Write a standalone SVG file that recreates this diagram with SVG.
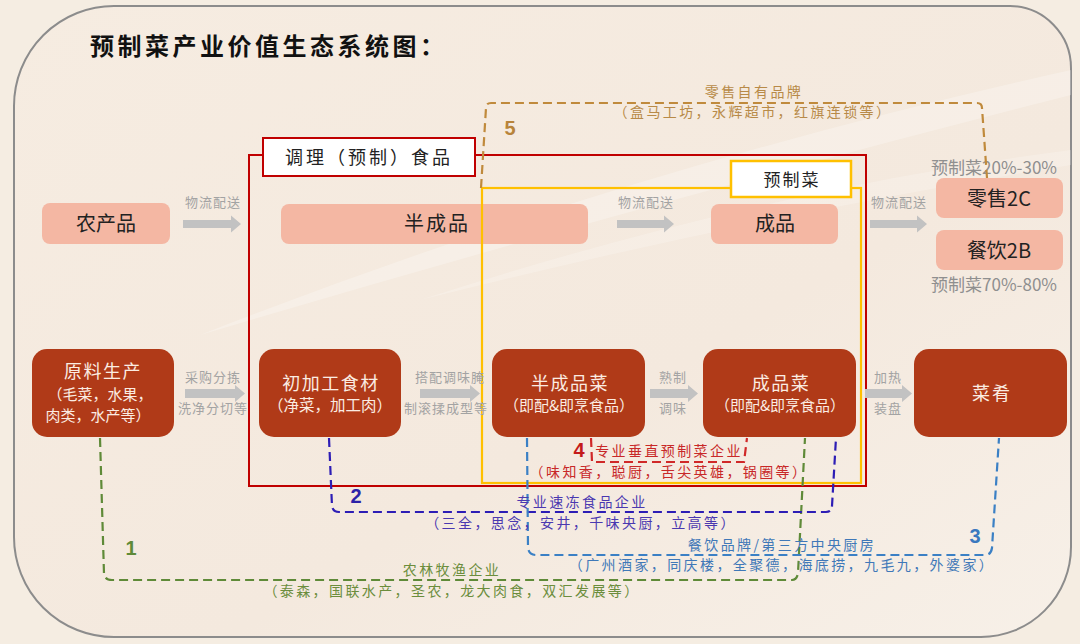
<svg xmlns="http://www.w3.org/2000/svg" width="1080" height="644" viewBox="0 0 1080 644">
<defs>
<style>
.t{font-family:"Noto Sans CJK SC","Noto Sans",sans-serif;}
.lb{fill:#f4b7a3;}
.db{fill:#b03a18;}
.lt{font-size:20px;fill:#222;text-anchor:middle;}
.dt{fill:#fbece2;text-anchor:middle;}
.ga{fill:#c2c2c2;}
.gl{font-size:13px;fill:#a3a3a3;text-anchor:middle;letter-spacing:1px;}
.pc{font-size:17px;fill:#8f8f8f;text-anchor:middle;}
.dash{fill:none;stroke-width:2.2;stroke-dasharray:9 5;}
.cap{font-size:14px;text-anchor:middle;letter-spacing:2.4px;}
.num{font-family:"Liberation Sans",Arial,sans-serif;font-size:20px;font-weight:bold;text-anchor:middle;}
</style>
<linearGradient id="bg" x1="0" y1="0" x2="1" y2="1">
<stop offset="0" stop-color="#f6ece1"/>
<stop offset="0.6" stop-color="#f4e9de"/>
<stop offset="1" stop-color="#f7f0e8"/>
</linearGradient>
</defs>
<rect width="1080" height="644" fill="#f5ede2"/>
<path d="M114,6 L1010,6 A62,62 0 0 1 1071,68 L1071,547 A90,90 0 0 1 981,637 L114,637 A100,100 0 0 1 14,537 L14,106 A100,100 0 0 1 114,6 Z" fill="url(#bg)" stroke="#8c8c8c" stroke-width="2"/>
<path d="M200,335 Q620,170 1071,70 L1071,95 Q620,210 200,335 Z" fill="#ffffff" opacity="0.25"/>
<path d="M420,300 Q760,190 1071,150 L1071,165 Q760,215 420,300 Z" fill="#ffffff" opacity="0.2"/>
<text class="t" x="90" y="55" font-size="24" font-weight="bold" fill="#111" letter-spacing="3.5">预制菜产业价值生态系统图：</text>

<g id="node-nongchanpin"><rect class="lb" x="42" y="203" width="128" height="41" rx="8"/><text class="t lt" x="106" y="231">农产品</text></g>
<g id="node-banchengpin"><rect class="lb" x="281" y="204" width="307" height="40" rx="8"/><text class="t lt" x="437" y="231" letter-spacing="2">半成品</text></g>
<g id="node-chengpin"><rect class="lb" x="711" y="204" width="127" height="40" rx="8"/><text class="t lt" x="775" y="231">成品</text></g>
<g id="node-lingshou"><rect class="lb" x="936" y="178" width="127" height="40" rx="8"/><text class="t lt" x="999" y="206" font-size="21">零售2C</text></g>
<g id="node-canyin"><rect class="lb" x="936" y="230" width="127" height="40" rx="8"/><text class="t lt" x="999" y="258" font-size="21">餐饮2B</text></g>
<text class="t pc" x="994" y="174">预制菜20%-30%</text>
<text class="t pc" x="994" y="291">预制菜70%-80%</text>

<g id="frame-tiaoli">
<rect x="249" y="155" width="617" height="331" fill="none" stroke="#c00000" stroke-width="2"/>
</g>
<g id="frame-yuzhicai">
<rect x="482" y="188" width="379" height="295" fill="none" stroke="#ffc000" stroke-width="2.2"/>
</g>
<g id="label-tiaoli"><rect x="263" y="138" width="212" height="38" fill="#fff" stroke="#c00000" stroke-width="2"/><text class="t" x="369" y="164" font-size="18" fill="#222" text-anchor="middle" letter-spacing="3">调理（预制）食品</text></g>
<g id="label-yuzhicai"><rect x="731" y="161" width="120" height="36" fill="#fff" stroke="#ffc000" stroke-width="2.5"/><text class="t" x="792" y="186" font-size="17" fill="#222" text-anchor="middle" letter-spacing="2">预制菜</text></g>

<g id="node-yuanliao"><rect class="db" x="32" y="349" width="142" height="88" rx="15"/>
<text class="t dt" x="103" y="378" font-size="18" letter-spacing="1.5">原料生产</text>
<text class="t dt" x="100" y="400" font-size="15">（毛菜，水果，</text>
<text class="t dt" x="98" y="421" font-size="15">肉类，水产等）</text></g>
<g id="node-chujiagong"><rect class="db" x="259" y="349" width="142" height="88" rx="15"/>
<text class="t dt" x="331" y="390" font-size="18" letter-spacing="1.5">初加工食材</text>
<text class="t dt" x="330" y="411" font-size="15.5">（净菜，加工肉）</text></g>
<g id="node-banchengpincai"><rect class="db" x="492" y="349" width="153" height="88" rx="15"/>
<text class="t dt" x="570" y="390" font-size="18" letter-spacing="1.5">半成品菜</text>
<text class="t dt" x="569" y="411" font-size="15">（即配&amp;即烹食品）</text></g>
<g id="node-chengpincai"><rect class="db" x="703" y="349" width="153" height="88" rx="15"/>
<text class="t dt" x="781" y="390" font-size="18" letter-spacing="1.5">成品菜</text>
<text class="t dt" x="780" y="411" font-size="15">（即配&amp;即烹食品）</text></g>
<g id="node-caiyao"><rect class="db" x="914" y="349" width="153" height="88" rx="15"/>
<text class="t dt" x="992" y="400" font-size="18" letter-spacing="2">菜肴</text></g>

<g id="connectors">
<polygon class="ga" points="183,220 231,220 231,215.5 241,224 231,232.5 231,228 183,228"/>
<polygon class="ga" points="617,220 664,220 664,215.5 674,224 664,232.5 664,228 617,228"/>
<polygon class="ga" points="870,220 917,220 917,215.5 927,224 917,232.5 917,228 870,228"/>
<polygon class="ga" points="185,389 235,389 235,385 245,393.5 235,402 235,398 185,398"/>
<polygon class="ga" points="420,389 470,389 470,385 480,393.5 470,402 470,398 420,398"/>
<polygon class="ga" points="650,389 688,389 688,385 698,393.5 688,402 688,398 650,398"/>
<polygon class="ga" points="865,389 902,389 902,385 912,393.5 902,402 902,398 865,398"/>

<path class="dash" stroke="#5f8a38" d="M100,438 L104,574 Q105,580 112,580 L792,580 Q797,580 798,573 L805,438"/>
<path class="dash" stroke="#2d1db5" d="M329,438 L332,506 Q333,512 339,512 L826,512 Q832,512 832,506 L836,438"/>
<path class="dash" stroke="#3b80c5" d="M527,438 L528,548 Q529,555 536,555 L985,555 Q991,555 992,548 L999,438"/>
<path class="dash" stroke="#d02828" d="M591,438 L592,462 L744,462 L747,438"/>
<path class="dash" stroke="#c08a3c" d="M481,188 L486,108 Q486,103 491,103 L977,103 Q982,103 982,108 L987,178"/>
</g>

<g id="labels">
<text class="t gl" x="213" y="207">物流配送</text>
<text class="t gl" x="646" y="207">物流配送</text>
<text class="t gl" x="899" y="207">物流配送</text>
<text class="t gl" x="213" y="382" font-size="14">采购分拣</text>
<text class="t gl" x="213" y="413" font-size="14">洗净分切等</text>
<text class="t gl" x="450" y="382" font-size="14">搭配调味腌</text>
<text class="t gl" x="446" y="413" font-size="14">制滚揉成型等</text>
<text class="t gl" x="673" y="382" font-size="14">熟制</text>
<text class="t gl" x="673" y="413" font-size="14">调味</text>
<text class="t gl" x="888" y="382" font-size="14">加热</text>
<text class="t gl" x="888" y="413" font-size="14">装盘</text>

<text class="num" x="131" y="555" fill="#5f8a38">1</text>
<text class="t cap" x="452" y="575" fill="#6b8d3c">农林牧渔企业</text>
<text class="t cap" x="452" y="596" fill="#6b8d3c">（泰森，国联水产，圣农，龙大肉食，双汇发展等）</text>

<text class="num" x="356" y="503" fill="#2d22a8">2</text>
<text class="t cap" x="582" y="507" fill="#4a38b0">专业速冻食品企业</text>
<text class="t cap" x="581" y="528" fill="#4a38b0">（三全，思念，安井，千味央厨，立高等）</text>

<text class="num" x="975" y="543" fill="#3a78bf">3</text>
<text class="t cap" x="782" y="550" fill="#3f78b8">餐饮品牌/第三方中央厨房</text>
<text class="t cap" x="782" y="570" fill="#3f78b8">（广州酒家，同庆楼，全聚德，海底捞，九毛九，外婆家）</text>

<text class="num" x="579" y="457" fill="#c41a1a">4</text>
<text class="t cap" x="669" y="456" fill="#c82828">专业垂直预制菜企业</text>
<text class="t cap" x="669" y="477" fill="#c82828">（味知香，聪厨，舌尖英雄，锅圈等）</text>

<text class="num" x="510" y="135" fill="#b8843a">5</text>
<text class="t cap" x="754" y="97" fill="#b88a48">零售自有品牌</text>
<text class="t cap" x="753" y="117" fill="#b88a48">（盒马工坊，永辉超市，红旗连锁等）</text>
</g>
</svg>
